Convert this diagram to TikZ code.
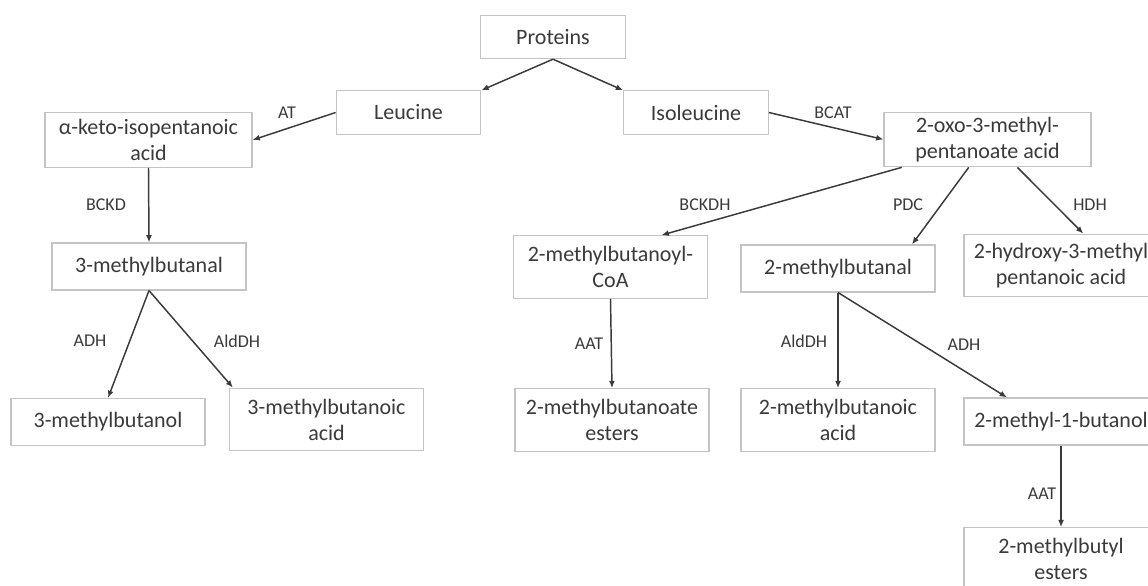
\documentclass[tikz,border=0pt]{standalone}
\usepackage{fontspec}
\setmainfont{Carlito}
\usetikzlibrary{arrows.meta}
\definecolor{boxgray}{HTML}{C4C4C4}
\definecolor{inkgray}{HTML}{3A3A3A}

\begin{document}
\begin{tikzpicture}[x=0.75pt,y=-0.75pt,
        box/.style={draw=boxgray,line width=0.8pt,fill=white,align=center,inner sep=1pt,text=inkgray,font=\fontsize{16.5}{19.5}\selectfont,minimum width=145.5pt,minimum height=35.25pt},
        smallbox/.style={box,minimum width=108.5pt,minimum height=32.5pt},
        widebox/.style={box,minimum width=155.25pt,minimum height=41pt},
        tallbox/.style={box,minimum height=47pt},
        enz/.style={inner sep=0pt,text=inkgray,font=\fontsize{13.5}{16}\selectfont},
        arr/.style={draw=inkgray,line width=1.1pt,arrows={-Latex[length=5.5pt,width=4.5pt]}}]
        \useasboundingbox (0,0) rectangle (1148,585);
        \clip (0,0) rectangle (1148,585);
        \node[smallbox] (prot) at (553,37) {Proteins};
        \node[smallbox] (leu) at (408.5,112.5) {Leucine};
        \node[smallbox] (ile) at (696,112.5) {Isoleucine};
        \node[widebox] (keto) at (148.5,140) {α-keto-isopentanoic\\acid};
        \node[widebox] (oxo) at (987.5,139.5) {2-oxo-3-methyl-\\pentanoate acid};
        \node[box] (mbal) at (149,266.5) {3-methylbutanal};
        \node[tallbox] (coa) at (610.5,267) {2-methylbutanoyl-\\CoA};
        \node[box] (tmbal) at (838,268.5) {2-methylbutanal};
        \node[tallbox] (hyd) at (1061,265.5) {2-hydroxy-3-methyl\\pentanoic acid};
        \node[box] (mbol) at (108,422) {3-methylbutanol};
        \node[tallbox] (mbac) at (326.5,419.5) {3-methylbutanoic\\acid};
        \node[tallbox] (tmbes) at (612,420) {2-methylbutanoate\\esters};
        \node[tallbox] (tmbac) at (838,420) {2-methylbutanoic\\acid};
        \node[box] (tmbol) at (1061,421.5) {2-methyl-1-butanol};
        \node[tallbox] (tmbyl) at (1061,559) {2-methylbutyl\\esters};

        \draw[arr] (prot.south) -- (leu.north east);
        \draw[arr] (prot.south) -- (ile.north west);
        \draw[arr] (leu.west) -- (keto.east);
        \draw[arr] (keto.south) -- (mbal.north);
        \draw[arr] (mbal.south) -- (mbol.north);
        \draw[arr] (mbal.south) -- ([xshift=3pt]mbac.north west);
        \draw[arr] (ile.east) -- (oxo.west);
        \draw[arr] (oxo.198) -- (coa.32);
        \draw[arr] (oxo.236) -- (tmbal.18);
        \draw[arr] (oxo.317) -- (hyd.55);
        \draw[arr] (coa.south) -- (tmbes.north);
        \draw[arr] (tmbal.south) -- (tmbac.north);
        \draw[arr] (tmbal.south) -- (tmbol.156);
        \draw[arr] (tmbol.south) -- (tmbyl.north);

        \node[enz] (eAT) at (287,113) {AT};
        \node[enz] (eBCKD) at (106,205) {BCKD};
        \node[enz] (eADHa) at (90,341) {ADH};
        \node[enz] (eAldDHa) at (237,341) {AldDH};
        \node[enz] (eBCAT) at (833,113) {BCAT};
        \node[enz] (eBCKDH) at (705,205) {BCKDH};
        \node[enz] (ePDC) at (908,205) {PDC};
        \node[enz] (eHDH) at (1090,205) {HDH};
        \node[enz] (eAATa) at (589,344) {AAT};
        \node[enz] (eAldDHb) at (804,341) {AldDH};
        \node[enz] (eADHb) at (964,345) {ADH};
        \node[enz] (eAATb) at (1042,494) {AAT};
      \end{tikzpicture}
\end{document}
